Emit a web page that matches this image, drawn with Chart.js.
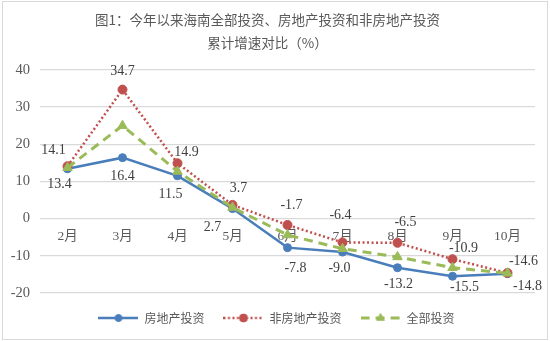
<!DOCTYPE html>
<html>
<head>
<meta charset="utf-8">
<script src="https://cdn.jsdelivr.net/npm/chart.js@4.4.0/dist/chart.umd.min.js"></script>
<style>
  body { margin: 0; background: #fff; }
  #wrap { position: relative; width: 550px; height: 341px; }
  #frame { position: absolute; left: 2px; top: 1px; width: 544px; height: 337px; border: 1px solid #d9d9d9; pointer-events: none; }
  canvas { display: block; }
</style>
</head>
<body>
<div id="wrap">
  <canvas id="investChart" width="550" height="341"></canvas>
  <div id="frame"></div>
</div>
<script>
var months = ['2月', '3月', '4月', '5月', '6月', '7月', '8月', '9月', '10月'];
var realEstate = [13.4, 16.4, 11.5, 2.7, -7.8, -9.0, -13.2, -15.5, -14.8];
var nonRealEstate = [14.1, 34.7, 14.9, 3.7, -1.7, -6.4, -6.5, -10.9, -14.6];
var allInvest = [13.7, 25.0, 12.7, 3.0, -4.4, -8.1, -10.3, -13.2, -14.7];

// where each value label sits relative to its point (dx, dy)
var realEstateLabelShift = [[-8, 16], [0, 19], [-7, 18], [-20, 19], [8, 21], [-3, 16], [1, 17], [12, 11], [20, 13]];
var nonRealEstateLabelShift = [[-14, -16], [0, -18], [9, -11], [6, -17], [4, -20], [-2, -27], [8, -20], [11, -11], [16, -12]];

var blue = '#4a7ebb';
var red = '#c0504d';
var green = '#9bbb59';
var textGrey = '#595959';

function legendIcon(color, dash, lineWidth, marker, radius) {
  var c = document.createElement('canvas');
  c.width = 40;
  c.height = 14;
  var g = c.getContext('2d');
  g.strokeStyle = color;
  g.lineWidth = lineWidth;
  g.setLineDash(dash);
  g.beginPath();
  g.moveTo(0, 7);
  g.lineTo(40, 7);
  g.stroke();
  g.setLineDash([]);
  g.fillStyle = color;
  g.lineWidth = 1;
  Chart.helpers.drawPoint(g, { pointStyle: marker, radius: radius, rotation: 0, borderWidth: 1 }, 20, 7);
  return c;
}

var legendIcons = [
  legendIcon(blue, [], 2.5, 'circle', 3.5),
  legendIcon(red, [2, 2.5], 2.5, 'circle', 4),
  legendIcon(green, [9, 6], 3, 'triangle', 4.5)
];

var pointValueLabels = {
  id: 'pointValueLabels',
  afterDatasetsDraw: function(chart) {
    var ctx = chart.ctx;
    chart.data.datasets.forEach(function(ds, i) {
      if (!ds.labelShift) return;
      var meta = chart.getDatasetMeta(i);
      ctx.save();
      ctx.font = "14px 'Liberation Serif'";
      ctx.fillStyle = '#404040';
      ctx.textAlign = 'center';
      ctx.textBaseline = 'middle';
      meta.data.forEach(function(pt, j) {
        var s = ds.labelShift[j];
        ctx.fillText(ds.data[j].toFixed(1), pt.x + s[0], pt.y + s[1]);
      });
      ctx.restore();
    });
  }
};

// nudge the legend row a little to the right of the canvas centre
var legendNudge = {
  id: 'legendNudge',
  afterLayout: function(chart) {
    if (chart.legend) {
      chart.legend.left += 9;
      chart.legend.right += 9;
    }
  }
};

var ctx = document.getElementById('investChart');
var investChart = new Chart(ctx, {
  type: 'line',
  data: {
    labels: months,
    datasets: [
      {
        label: '房地产投资',
        data: realEstate,
        borderColor: blue,
        backgroundColor: blue,
        borderWidth: 2.5,
        pointRadius: 4,
        pointBorderWidth: 1,
        pointStyle: 'circle',
        order: 3,
        labelShift: realEstateLabelShift
      },
      {
        label: '非房地产投资',
        data: nonRealEstate,
        borderColor: red,
        backgroundColor: red,
        borderWidth: 2.5,
        borderDash: [2, 2.5],
        pointRadius: 4.5,
        pointBorderWidth: 1,
        pointStyle: 'circle',
        order: 2,
        labelShift: nonRealEstateLabelShift
      },
      {
        label: '全部投资',
        data: allInvest,
        borderColor: green,
        backgroundColor: green,
        borderWidth: 3,
        borderDash: [9, 6],
        pointRadius: 5.5,
        pointBorderWidth: 1,
        pointStyle: 'triangle',
        order: 1
      }
    ]
  },
  options: {
    responsive: false,
    animation: false,
    layout: { padding: { left: 0, right: 15, top: 0, bottom: 7 } },
    scales: {
      x: {
        position: { y: 0 },
        offset: true,
        grid: { display: false, drawTicks: false },
        border: { display: false },
        ticks: {
          color: textGrey,
          font: { family: "'Liberation Serif', 'Noto Sans CJK SC'", size: 13.5 },
          padding: 10,
          maxRotation: 0,
          autoSkip: false
        }
      },
      y: {
        min: -20,
        max: 40,
        afterFit: function(scale) { scale.width = 40; },
        grid: { color: '#d9d9d9', lineWidth: 1.2, drawTicks: false },
        border: { display: false },
        ticks: {
          stepSize: 10,
          color: textGrey,
          font: { family: "'Liberation Serif'", size: 14.5 },
          padding: 10
        }
      }
    },
    plugins: {
      title: {
        display: true,
        text: ['图1：今年以来海南全部投资、房地产投资和非房地产投资', '累计增速对比（%）'],
        color: textGrey,
        font: { family: "'Noto Sans CJK SC'", size: 13.5, weight: 'normal', lineHeight: 1.7 },
        padding: { top: 8, bottom: 16 }
      },
      legend: {
        position: 'bottom',
        labels: {
          color: textGrey,
          font: { family: "'Noto Sans CJK SC'", size: 12 },
          usePointStyle: true,
          pointStyleWidth: 40,
          padding: 19,
          sort: function(a, b) { return a.datasetIndex - b.datasetIndex; },
          generateLabels: function(chart) {
            return Chart.defaults.plugins.legend.labels.generateLabels(chart).map(function(item) {
              item.pointStyle = legendIcons[item.datasetIndex];
              return item;
            });
          }
        }
      },
      tooltip: { enabled: false }
    }
  },
  plugins: [pointValueLabels, legendNudge]
});
</script>
</body>
</html>
